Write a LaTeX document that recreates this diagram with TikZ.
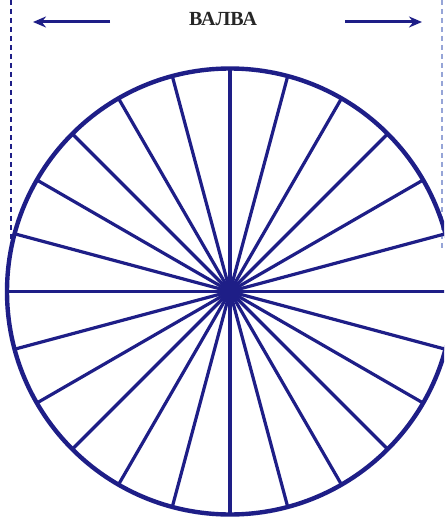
\documentclass[tikz,border=0pt]{standalone}
\usepackage{fontspec}
\setmainfont{Liberation Serif}
\usetikzlibrary{arrows.meta}
\definecolor{ink}{RGB}{30,30,135}
\definecolor{faint}{RGB}{150,165,215}
\tikzset{
  spoke/.style={draw=ink, line width=3.2pt},
  rim/.style={draw=ink, line width=4.4pt},
  guide/.style={draw=ink, line width=2.8pt, dash pattern=on 5pt off 4pt},
  guidefaint/.style={draw=faint, line width=1.6pt, dash pattern=on 5pt off 4pt},
  dirarrow/.style={draw=ink, line width=3pt, -{Stealth[length=13pt,width=11pt]}},
  title/.style={font=\fontsize{20}{22}\selectfont\bfseries, text=black!85}
}
\begin{document}
\begin{tikzpicture}[x=1pt,y=-1pt]
  \useasboundingbox (0,0) rectangle (444,518);
  \clip (0,0) rectangle (444,518);
  \fill[white] (0,0) rectangle (444,518);
  % dashed guides
  \coordinate (lt) at (11,0);
  \coordinate (lb) at (11,252);
  \coordinate (rt) at (442,0);
  \coordinate (rb) at (442,250);
  \draw[guide] (lt) -- (lb);
  \draw[guidefaint] (rt) -- (rb);
  % title and arrows
  \node[title] (t) at (223,19) {ВАЛВА};
  \coordinate (la) at (110,22);
  \coordinate (lah) at (33,22);
  \coordinate (ra) at (345,22);
  \coordinate (rah) at (422,22);
  \draw[dirarrow] (la) -- (lah);
  \draw[dirarrow] (ra) -- (rah);
  % wheel
  \coordinate (c) at (230,291.5);
  \foreach \a in {0,15,...,345} {
    \draw[spoke] (c) -- ++(\a:223);
  }
  \draw[rim] (c) circle[radius=223];
\end{tikzpicture}
\end{document}
